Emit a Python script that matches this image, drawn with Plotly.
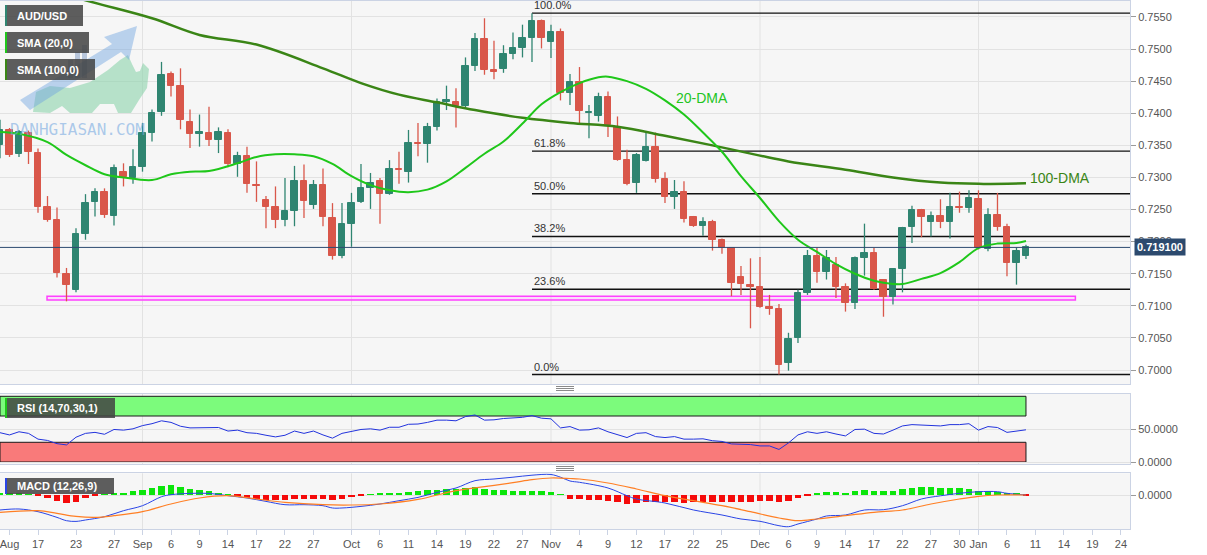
import pandas as pd
import plotly.graph_objects as go
from plotly.subplots import make_subplots

# ---------------- DATA ----------------
start_date = "2021-08-11"
axis_end_date = "2022-01-25"

opens = [0.7351, 0.7374, 0.7337, 0.7369, 0.7338, 0.7254, 0.7233, 0.7150, 0.7125, 0.7212,
         0.7261, 0.7278, 0.7240, 0.7308, 0.7299, 0.7317, 0.7370, 0.7402, 0.7461, 0.7442,
         0.7386, 0.7368, 0.7369, 0.7359, 0.7369, 0.7321, 0.7334, 0.7288, 0.7265, 0.7254,
         0.7234, 0.7248, 0.7295, 0.7257, 0.7288, 0.7237, 0.7178, 0.7228, 0.7262, 0.7283,
         0.7294, 0.7274, 0.7313, 0.7309, 0.7353, 0.7352, 0.7379, 0.7417, 0.7418, 0.7411,
         0.7474, 0.7516, 0.7468, 0.7469, 0.7492, 0.7501, 0.7518, 0.7544, 0.7511, 0.7526,
         0.7431, 0.7449, 0.7400, 0.7396, 0.7425, 0.7378, 0.7327, 0.7291, 0.7326, 0.7347,
         0.7297, 0.7269, 0.7278, 0.7238, 0.7225, 0.7231, 0.7202, 0.7190, 0.7145, 0.7133,
         0.7129, 0.7098, 0.7095, 0.7011, 0.7050, 0.7120, 0.7178, 0.7152, 0.7164, 0.7130,
         0.7105, 0.7174, 0.7183, 0.7141, 0.7113, 0.7157, 0.7223, 0.7250, 0.7230, 0.7240,
         0.7231, 0.7254, 0.7253, 0.7266, 0.7188, 0.7242, 0.7223, 0.7167, 0.7177]
highs = [0.7390, 0.7377, 0.7374, 0.7373, 0.7345, 0.7271, 0.7253, 0.7159, 0.7221, 0.7274,
         0.7283, 0.7283, 0.7320, 0.7322, 0.7344, 0.7385, 0.7406, 0.7480, 0.7465, 0.7470,
         0.7406, 0.7398, 0.7410, 0.7378, 0.7375, 0.7340, 0.7348, 0.7325, 0.7271, 0.7286,
         0.7299, 0.7318, 0.7320, 0.7296, 0.7314, 0.7260, 0.7260, 0.7276, 0.7321, 0.7307,
         0.7299, 0.7327, 0.7340, 0.7374, 0.7385, 0.7385, 0.7423, 0.7443, 0.7439, 0.7487,
         0.7525, 0.7548, 0.7513, 0.7506, 0.7526, 0.7538, 0.7556, 0.7546, 0.7538, 0.7532,
         0.7461, 0.7472, 0.7413, 0.7432, 0.7434, 0.7395, 0.7343, 0.7338, 0.7372, 0.7370,
         0.7308, 0.7296, 0.7294, 0.7240, 0.7238, 0.7234, 0.7205, 0.7191, 0.7162, 0.7174,
         0.7176, 0.7117, 0.7103, 0.7058, 0.7125, 0.7187, 0.7190, 0.7187, 0.7176, 0.7135,
         0.7177, 0.7228, 0.7190, 0.7141, 0.7159, 0.7223, 0.7256, 0.7251, 0.7247, 0.7266,
         0.7276, 0.7278, 0.7280, 0.7280, 0.7252, 0.7276, 0.7228, 0.7191, 0.7195]
lows = [0.7330, 0.7332, 0.7332, 0.7321, 0.7245, 0.7231, 0.7144, 0.7107, 0.7121, 0.7203,
        0.7239, 0.7237, 0.7225, 0.7286, 0.7290, 0.7309, 0.7356, 0.7396, 0.7426, 0.7375,
        0.7346, 0.7348, 0.7349, 0.7338, 0.7316, 0.7301, 0.7276, 0.7262, 0.7221, 0.7221,
        0.7224, 0.7224, 0.7237, 0.7251, 0.7224, 0.7172, 0.7174, 0.7192, 0.7260, 0.7251,
        0.7228, 0.7273, 0.7290, 0.7292, 0.7333, 0.7323, 0.7373, 0.7405, 0.7378, 0.7409,
        0.7466, 0.7460, 0.7453, 0.7463, 0.7484, 0.7487, 0.7480, 0.7501, 0.7486, 0.7420,
        0.7413, 0.7383, 0.7361, 0.7387, 0.7363, 0.7326, 0.7288, 0.7276, 0.7325, 0.7292,
        0.7260, 0.7251, 0.7230, 0.7223, 0.7209, 0.7186, 0.7181, 0.7115, 0.7117, 0.7065,
        0.7097, 0.7086, 0.6993, 0.6999, 0.7042, 0.7117, 0.7136, 0.7141, 0.7112, 0.7091,
        0.7095, 0.7147, 0.7125, 0.7083, 0.7102, 0.7121, 0.7198, 0.7207, 0.7208, 0.7221,
        0.7205, 0.7245, 0.7245, 0.7188, 0.7185, 0.7217, 0.7146, 0.7133, 0.7173]
closes = [0.7374, 0.7335, 0.7371, 0.7339, 0.7254, 0.7234, 0.7151, 0.7133, 0.7212, 0.7260,
          0.7278, 0.7241, 0.7314, 0.7300, 0.7317, 0.7370, 0.7401, 0.7460, 0.7442, 0.7390,
          0.7368, 0.7371, 0.7359, 0.7371, 0.7321, 0.7334, 0.7290, 0.7286, 0.7254, 0.7234,
          0.7247, 0.7295, 0.7264, 0.7288, 0.7238, 0.7177, 0.7228, 0.7260, 0.7283, 0.7292,
          0.7274, 0.7313, 0.7311, 0.7353, 0.7352, 0.7379, 0.7418, 0.7420, 0.7411, 0.7474,
          0.7516, 0.7468, 0.7465, 0.7492, 0.7501, 0.7518, 0.7544, 0.7518, 0.7526, 0.7432,
          0.7449, 0.7403, 0.7402, 0.7425, 0.7382, 0.7327, 0.7290, 0.7335, 0.7347, 0.7297,
          0.7269, 0.7278, 0.7235, 0.7224, 0.7231, 0.7202, 0.7190, 0.7136, 0.7134, 0.7130,
          0.7098, 0.7095, 0.7008, 0.7048, 0.7120, 0.7178, 0.7152, 0.7174, 0.7130, 0.7105,
          0.7174, 0.7183, 0.7126, 0.7113, 0.7157, 0.7221, 0.7250, 0.7238, 0.7240, 0.7231,
          0.7254, 0.7252, 0.7268, 0.7190, 0.7242, 0.7223, 0.7167, 0.7185, 0.7191]

# moving averages (candle number, value)
sma20_day = [0, 2, 5, 7, 9, 11, 13, 16, 18, 20, 22, 25, 27, 29, 31, 33, 35, 37, 39, 41,
             43, 45, 47, 49, 51, 53, 55, 57, 59, 61, 63, 64, 66, 68, 70, 72, 74, 76, 78, 80,
             82, 84, 86, 88, 90, 92, 93, 95, 97, 99, 101, 103, 105, 107, 108]
sma20_val = [0.7371, 0.7368, 0.7355, 0.7335, 0.7319, 0.7305, 0.7300, 0.7296, 0.7305, 0.7309,
             0.7310, 0.7322, 0.7332, 0.7336, 0.7336, 0.7333, 0.7321, 0.7302, 0.7288, 0.7280,
             0.7277, 0.7281, 0.7294, 0.7315, 0.7337, 0.7356, 0.7384, 0.7414, 0.7433, 0.7447,
             0.7456, 0.7457, 0.7450, 0.7438, 0.7420, 0.7398, 0.7370, 0.7340, 0.7302, 0.7268,
             0.7232, 0.7203, 0.7184, 0.7165, 0.7150, 0.7139, 0.7136, 0.7134, 0.7142, 0.7151,
             0.7168, 0.7190, 0.7197, 0.7198, 0.7201]
sma100_day = [0, 9, 16, 21, 27, 34, 38, 42, 46, 50, 55, 60, 65, 70, 75, 80, 83, 89, 94, 99, 103, 108]
sma100_val = [0.7615, 0.7576, 0.7548, 0.7522, 0.7507, 0.7470, 0.7447, 0.7429, 0.7417, 0.7405,
              0.7393, 0.7385, 0.7379, 0.7365, 0.7350, 0.7334, 0.7325, 0.7312, 0.7300, 0.7292,
              0.7290, 0.7291]

rsi_val = [44.6, 41.2, 46.0, 43.6,
           34.8, 32.8, 27.9, 26.0, 37.7, 43.6, 45.1, 42.2, 49.5, 48.5,
           50.5, 55.4, 58.3, 62.7, 60.3, 54.4, 51.9, 51.9, 51.5, 52.5,
           47.1, 48.5, 44.6, 43.6, 40.7, 38.2, 40.7, 47.1, 43.6, 47.1,
           41.2, 36.3, 43.6, 47.1, 49.5, 50.5, 48.5, 52.9, 52.9, 57.4,
           57.8, 60.3, 63.7, 63.7, 62.7, 69.1, 71.6, 63.7, 64.2, 66.2,
           67.6, 68.0, 70.6, 66.7, 65.7, 51.9, 53.9, 48.5, 49.0, 51.9,
           46.0, 41.0, 37.2, 43.6, 44.6, 38.7, 37.2, 38.7, 34.8, 34.8,
           35.3, 32.4, 31.3, 27.5, 27.5, 26.5, 24.5, 24.5, 19.1, 29.0,
           41.2, 46.0, 43.6, 46.0, 42.6, 39.7, 49.5, 50.0, 43.6, 42.6,
           48.5, 54.9, 56.9, 55.9, 55.9, 54.9, 56.9, 56.9, 58.3, 48.5,
           53.9, 52.5, 45.1, 47.5, 49.0]

# MACD values in units of 1e-4
macd_day = [0, 2, 4, 6, 7, 8, 9, 11, 13, 15, 17, 18, 20, 22, 24, 26, 28, 30, 32, 34,
            35, 36, 38, 40, 42, 44, 46, 48, 50, 52, 54, 56, 58, 59, 60, 61, 64, 66, 67, 70,
            73, 76, 78, 80, 82, 83, 84, 86, 87, 89, 91, 93, 95, 97, 99, 101, 103, 105, 106, 108]
macd_e4 = [-15.0, -14.0, -16.7, -22.4, -25.7, -26.4, -25.0, -21.7, -15.7, -10.7, -1.7, 0.3, 1.6,
           1.6, -0.7, -3.0, -6.4, -9.7, -9.7, -10.7, -13.0, -13.0, -11.4, -9.0, -5.7, -2.4, 2.6,
           7.0, 14.3, 16.0, 17.8, 19.8, 20.5, 17.8, 14.0, 12.7, 7.0, -0.7, -4.0, -8.0, -15.0,
           -20.0, -24.0, -26.3, -30.7, -31.7, -29.0, -24.0, -21.0, -20.0, -15.0, -14.7, -10.7,
           -4.0, -0.8, 1.7, 3.3, 3.3, 1.7, 0.0]
signal_day = [0, 4, 6, 8, 10, 12, 15, 18, 21, 24, 27, 30, 34, 37, 40, 44, 48, 51, 54, 56,
              58, 60, 61, 64, 67, 70, 73, 76, 79, 82, 84, 86, 89, 92, 95, 98, 101, 103, 105, 108]
signal_e4 = [-17.4, -15.7, -18.4, -21.4, -22.4, -20.7, -16.7, -9.0, -3.0, -0.7, -4.0, -7.4,
             -9.7, -10.0, -9.0, -4.4, 4.3, 8.3, 12.3, 15.3, 17.0, 16.5, 16.0, 12.0, 6.0, -0.7,
             -5.7, -10.7, -16.7, -23.0, -25.7, -24.0, -20.7, -17.3, -15.0, -9.0, -4.0, -1.3,
             0.0, 0.0]
hist_e4 = [2, 1.5, 1, 0.5,
           -0.5, -3, -6.3, -8.3, -7.3, -3, -1, 0.5, 1, 1.7,
           3.3, 5, 7, 8.7, 9.3, 7.7, 6, 4.3, 3.3, 1.7,
           0.5, -1.5, -3, -4, -5, -5.7, -5.7, -4.7, -4.7, -4.3,
           -4.3, -5, -4.7, -2.5, -1, 0.5, 1, 1.5, 2, 2.7,
           3.3, 4.3, 5, 6, 6, 7, 7.7, 6, 5, 4.3,
           4, 4, 4, 3.5, 3, 0.5, -4, -4, -5, -5,
           -6, -7, -9, -8, -7, -7, -7, -7, -8, -7,
           -7, -7, -7, -7, -7, -7, -6, -6, -7, -6,
           -3, -1, 2, 3, 3, 2, 4, 5, 4, 4,
           4, 6, 7, 8, 8, 7, 7, 7, 6, 4,
           4, 3, 2, 1, -0.5]

tick_dates = ["2021-08-12", "2021-08-17", "2021-08-23", "2021-08-27", "2021-09-01", "2021-09-06",
              "2021-09-09", "2021-09-14", "2021-09-17", "2021-09-22", "2021-09-27", "2021-10-01",
              "2021-10-06", "2021-10-11", "2021-10-14", "2021-10-19", "2021-10-22", "2021-10-27",
              "2021-11-01", "2021-11-04", "2021-11-09", "2021-11-12", "2021-11-17", "2021-11-22",
              "2021-11-25", "2021-12-01", "2021-12-06", "2021-12-09", "2021-12-14", "2021-12-17",
              "2021-12-22", "2021-12-27", "2021-12-30", "2022-01-03", "2022-01-06", "2022-01-11",
              "2022-01-14", "2022-01-19", "2022-01-24"]
tick_labels = ["Aug", "17", "23", "27", "Sep", "6", "9", "14", "17", "22", "27", "Oct",
               "6", "11", "14", "19", "22", "27", "Nov", "4", "9", "12", "17", "22",
               "25", "Dec", "6", "9", "14", "17", "22", "27", "30", "Jan", "6", "11",
               "14", "19", "24"]
month_dates = ["2021-09-01", "2021-10-01", "2021-11-01", "2021-12-01", "2022-01-03"]
price_ticks = [0.7000, 0.7050, 0.7100, 0.7150, 0.7200, 0.7250, 0.7300, 0.7350, 0.7400,
               0.7450, 0.7500, 0.7550]

fib_high = 0.7556
fib_low = 0.6993
fib_start_day = 56
fib_ratios = [1.0, 0.618, 0.5, 0.382, 0.236, 0.0]
fib_labels = ["100.0%", "61.8%", "50.0%", "38.2%", "23.6%", "0.0%"]
support_zone = [0.7109, 0.7115]
support_days = [4.95, 113.2]
last_price = 0.7191

# ---------------- LAYOUT HELPERS ----------------
W, H = 1207, 555
ML, MR, MT, MB = 0, 77, 1, 26
PW, PH = W - ML - MR, H - MT - MB


def pxx(x):
    return (x - ML) / PW


def pxy(y):
    return (MT + PH - y) / PH


days = pd.bdate_range(start_date, axis_end_date)
pos = {d.strftime("%Y-%m-%d"): k for k, d in enumerate(days)}
tickvals = [pos[d] for d in tick_dates]
month_pos = [pos[d] for d in month_dates]
n = len(opens)
xs = list(range(n))
x_range = [0, 118.95]

UP, DN = "#2f8571", "#d9574a"
FONT = "Arial, Liberation Sans, sans-serif"

fig = make_subplots(rows=3, cols=1, shared_xaxes=True, vertical_spacing=0.02)

# wicks
for color, cond in ((UP, lambda o, c: c >= o), (DN, lambda o, c: c < o)):
    wx, wy = [], []
    for k in xs:
        if cond(opens[k], closes[k]):
            wx += [k, k, None]
            wy += [lows[k], highs[k], None]
    fig.add_trace(go.Scatter(x=wx, y=wy, mode="lines", line=dict(color=color, width=1.3),
                             hoverinfo="skip", showlegend=False), row=1, col=1)

# bodies
for color, cond in ((UP, lambda o, c: c >= o), (DN, lambda o, c: c < o)):
    bx = [k for k in xs if cond(opens[k], closes[k])]
    fig.add_trace(go.Bar(x=bx, y=[abs(closes[k] - opens[k]) for k in bx],
                         base=[min(opens[k], closes[k]) for k in bx], width=0.68,
                         marker=dict(color=color, line=dict(color=color, width=1)),
                         showlegend=False), row=1, col=1)

fig.add_trace(go.Scatter(x=sma100_day, y=sma100_val, mode="lines", line=dict(color="#3a8516", width=2.5, shape="spline"),
                         showlegend=False), row=1, col=1)
fig.add_trace(go.Scatter(x=sma20_day, y=sma20_val, mode="lines", line=dict(color="#1fc71a", width=2, shape="spline"),
                         showlegend=False), row=1, col=1)

# RSI
fig.add_trace(go.Scatter(x=xs, y=rsi_val, mode="lines", line=dict(color="#2233dd", width=1),
                         showlegend=False), row=2, col=1)

# MACD
fig.add_trace(go.Bar(x=xs, y=[v * 1e-4 for v in hist_e4], width=0.67,
                     marker=dict(color=["#0be60b" if v >= 0 else "#f50a0a" for v in hist_e4], line=dict(width=0)),
                     showlegend=False), row=3, col=1)
fig.add_trace(go.Scatter(x=macd_day, y=[v * 1e-4 for v in macd_e4], mode="lines",
                         line=dict(color="#2a45e6", width=1, shape="spline"), showlegend=False), row=3, col=1)
fig.add_trace(go.Scatter(x=signal_day, y=[v * 1e-4 for v in signal_e4], mode="lines",
                         line=dict(color="#ff7f24", width=1.2, shape="spline"), showlegend=False), row=3, col=1)

BORDER = "#cbd3e4"
GRID = "#e2e2e2"
tickfont = dict(family=FONT, size=11, color="#555555")

xcommon = dict(range=x_range, showgrid=False, zeroline=False, showline=True, mirror=True,
               linecolor=BORDER, linewidth=1, tickmode="array", tickvals=tickvals, ticktext=tick_labels)
fig.update_layout(
    width=W, height=H, margin=dict(l=ML, r=MR, t=MT, b=MB),
    paper_bgcolor="white", plot_bgcolor="#f6f6f6", barmode="overlay", bargap=0,
    showlegend=False, hovermode=False,
    xaxis=dict(**xcommon, showticklabels=False, ticks=""),
    xaxis2=dict(**xcommon, showticklabels=False, ticks=""),
    xaxis3=dict(**xcommon, showticklabels=True, ticks="outside", ticklen=5, tickcolor=BORDER,
                tickfont=tickfont, ticklabeloverflow="allow"),
    yaxis=dict(domain=[pxy(384), 1.0], range=[0.69782, 0.75749], side="right",
               tickmode="array", tickvals=price_ticks, ticktext=[f"{v:.4f}" for v in price_ticks],
               showgrid=True, gridcolor=GRID, zeroline=False, showline=True, mirror=True,
               linecolor=BORDER, ticks="outside", ticklen=5, tickcolor="#9a9a9a", tickfont=tickfont),
    yaxis2=dict(domain=[pxy(464), pxy(394)], range=[-3.04, 103.5], side="right",
                tickmode="array", tickvals=[0, 50], ticktext=["0.0000", "50.0000"],
                showgrid=True, gridcolor=GRID, zeroline=False, showline=True, mirror=True,
                linecolor=BORDER, ticks="outside", ticklen=5, tickcolor="#9a9a9a", tickfont=tickfont),
    yaxis3=dict(domain=[0.0, pxy(473.3)], range=[-34e-4, 21.7e-4], side="right",
                tickmode="array", tickvals=[0], ticktext=["0.0000"],
                showgrid=True, gridcolor=GRID, zeroline=False, showline=True, mirror=True,
                linecolor=BORDER, ticks="outside", ticklen=5, tickcolor="#9a9a9a", tickfont=tickfont),
)

shapes = []
annos = []

# month gridlines
for xr, yr in (("x", "y"), ("x2", "y2"), ("x3", "y3")):
    for mp in month_pos:
        shapes.append(dict(type="line", xref=xr, yref=f"{yr} domain", x0=mp, x1=mp, y0=0, y1=1,
                           line=dict(color=GRID, width=1), layer="below"))

# RSI bands
shapes.append(dict(type="rect", xref="x2", yref="y2", x0=0, x1=n - 1, y0=70, y1=100,
                   fillcolor="#7cfb7c", line=dict(color="#1a1a1a", width=1), layer="below"))
shapes.append(dict(type="rect", xref="x2", yref="y2", x0=0, x1=n - 1, y0=0, y1=30,
                   fillcolor="#f97a7a", line=dict(color="#1a1a1a", width=1), layer="below"))

# support zone
shapes.append(dict(type="rect", xref="x", yref="y", x0=support_days[0], x1=support_days[1],
                   y0=support_zone[0], y1=support_zone[1], fillcolor="rgba(255,170,255,0.35)",
                   line=dict(color="#ff40ff", width=1.5), layer="below"))

# fibonacci
for r, lab in zip(fib_ratios, fib_labels):
    lvl = fib_low + r * (fib_high - fib_low)
    shapes.append(dict(type="line", xref="x", yref="y", x0=fib_start_day, x1=x_range[1], y0=lvl, y1=lvl,
                       line=dict(color="#111111", width=1.4), layer="below"))
    annos.append(dict(x=fib_start_day, y=lvl, xref="x", yref="y", text=lab, showarrow=False,
                      xanchor="left", yanchor="bottom", yshift=0, font=dict(family=FONT, size=11, color="#333333")))

# last price line
shapes.append(dict(type="line", xref="x", yref="y", x0=x_range[0], x1=x_range[1], y0=last_price, y1=last_price,
                   line=dict(color="#2c4a70", width=1), layer="above"))
annos.append(dict(x=pxx(1134), y=last_price, xref="paper", yref="y", text=f"<b>{last_price:.6f}</b>",
                  showarrow=False, xanchor="left", yanchor="middle", bgcolor="#2c4a6e", borderpad=2,
                  font=dict(family=FONT, size=11, color="white")))

# MA labels
annos.append(dict(x=71.0, y=0.7424, xref="x", yref="y", text="20-DMA", showarrow=False, xanchor="left",
                  font=dict(family=FONT, size=14, color="#22c41e")))
annos.append(dict(x=108.2, y=0.7299, xref="x", yref="y", text="100-DMA", showarrow=False, xanchor="left",
                  font=dict(family=FONT, size=14, color="#3a8516")))

# watermark (logo)
def path(points):
    s = "M " + " L ".join(f"{pxx(x):.5f},{pxy(y):.5f}" for x, y in points) + " Z"
    return s

bull = [(33, 112), (36, 92), (50, 86), (70, 88), (90, 82), (108, 70), (120, 60), (128, 55), (132, 64),
        (136, 72), (140, 71), (143, 63), (149, 69), (147, 88), (139, 100), (131, 113), (118, 113),
        (114, 104), (100, 104), (92, 113), (70, 113), (62, 106), (50, 113)]
arrow = [(20, 100), (112, 44), (104, 37), (137, 26), (129, 60), (121, 52), (30, 110)]
shapes.append(dict(type="path", xref="paper", yref="paper", path=path(bull),
                   fillcolor="rgba(140,212,172,0.6)", line=dict(width=0), layer="above"))
shapes.append(dict(type="path", xref="paper", yref="paper", path=path(arrow),
                   fillcolor="rgba(110,165,225,0.45)", line=dict(width=0), layer="above"))
for bx0, by0 in ((68, 60), (75, 52), (82, 45)):
    shapes.append(dict(type="rect", xref="paper", yref="paper", x0=pxx(bx0), x1=pxx(bx0 + 5),
                       y0=pxy(78), y1=pxy(by0), fillcolor="rgba(70,110,170,0.35)", line=dict(width=0),
                       layer="above"))
annos.append(dict(x=pxx(8), y=pxy(130), xref="paper", yref="paper", text="DANHGIASAN.COM", showarrow=False,
                  xanchor="left", yanchor="middle",
                  font=dict(family="DejaVu Sans Mono, monospace", size=16, color="rgba(120,170,225,0.6)")))

# indicator labels (top-left boxes)
boxes = [
    ("AUD/USD", 5, 83, 5, 26, "#2f8571"),
    ("SMA (20,0)", 5, 89, 32, 53, "#1fc71a"),
    ("SMA (100,0)", 5, 95, 59, 80, "#3a8516"),
    ("RSI (14,70,30,1)", 5, 115, 398, 418, "#1fc71a"),
    ("MACD (12,26,9)", 5, 114, 478, 494, "#2a45e6"),
]
for text, x0, x1, y0, y1, acc in boxes:
    shapes.append(dict(type="rect", xref="paper", yref="paper", x0=pxx(x0), x1=pxx(x1), y0=pxy(y1), y1=pxy(y0),
                       fillcolor="rgba(68,68,68,0.86)", line=dict(width=0), layer="above"))
    shapes.append(dict(type="rect", xref="paper", yref="paper", x0=pxx(x0), x1=pxx(x0 + 2), y0=pxy(y1), y1=pxy(y0),
                       fillcolor=acc, line=dict(width=0), layer="above"))
    annos.append(dict(x=pxx(15), y=pxy((y0 + y1) / 2), xref="paper", yref="paper", text=f"<b>{text}</b>",
                      showarrow=False, xanchor="left", yanchor="middle",
                      font=dict(family=FONT, size=11, color="white")))

# panel grips
for gy in (386.5, 466.5):
    for d in (0, 2, 4):
        shapes.append(dict(type="line", xref="paper", yref="paper", x0=pxx(556), x1=pxx(574),
                           y0=pxy(gy + d), y1=pxy(gy + d), line=dict(color="#8a8a8a", width=1), layer="above"))

fig.update_layout(shapes=shapes, annotations=annos)
fig.write_html("out.html")
